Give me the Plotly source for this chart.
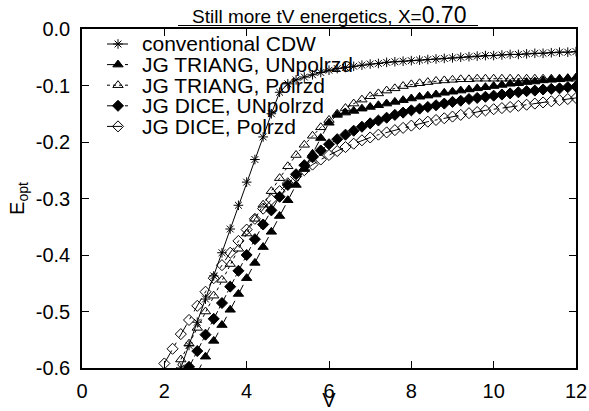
import plotly.graph_objects as go

# ---------------- data ----------------
v_grid = [2.0, 2.2, 2.4, 2.6, 2.8, 3.0, 3.2, 3.4, 3.6, 3.8,
          4.0, 4.2, 4.4, 4.6, 4.8, 5.0, 5.2, 5.4, 5.6, 5.8,
          6.0, 6.2, 6.4, 6.6, 6.8, 7.0, 7.2, 7.4, 7.6, 7.8,
          8.0, 8.2, 8.4, 8.6, 8.8, 9.0, 9.2, 9.4, 9.6, 9.8,
          10.0, 10.2, 10.4, 10.6, 10.8, 11.0, 11.2, 11.4, 11.6, 11.8, 12.0]

series_names = ["conventional CDW", "JG TRIANG, UNpolrzd", "JG TRIANG, Polrzd",
                "JG DICE, UNpolrzd", "JG DICE, Polrzd"]

# first V of each series (values below follow v_grid from that V)
cdw_start = 2.2
cdw_E = [-0.641, -0.600, -0.560, -0.519, -0.478, -0.437, -0.396, -0.354, -0.312, -0.271,
         -0.231, -0.191, -0.150, -0.112, -0.097, -0.090, -0.085, -0.081, -0.077, -0.073,
         -0.070, -0.068, -0.066, -0.064, -0.062, -0.061, -0.059, -0.058, -0.057, -0.056,
         -0.055, -0.054, -0.053, -0.052, -0.051, -0.050, -0.049, -0.048, -0.047, -0.047,
         -0.046, -0.045, -0.045, -0.044, -0.043, -0.043, -0.042, -0.041, -0.041, -0.040]

tri_un_start = 2.8
tri_un_E = [-0.608, -0.580, -0.552, -0.524, -0.497, -0.469, -0.441, -0.414, -0.386, -0.359,
            -0.331, -0.303, -0.276, -0.248, -0.221, -0.193, -0.166, -0.152, -0.148, -0.145,
            -0.141, -0.138, -0.135, -0.132, -0.129, -0.126, -0.123, -0.120, -0.118, -0.116,
            -0.113, -0.111, -0.109, -0.107, -0.105, -0.103, -0.101, -0.099, -0.097, -0.096,
            -0.094, -0.093, -0.091, -0.090, -0.089, -0.087, -0.086]

tri_pol_start = 2.2
tri_pol_E = [-0.613, -0.585, -0.557, -0.529, -0.500, -0.472, -0.444, -0.416, -0.389, -0.362,
             -0.336, -0.311, -0.287, -0.264, -0.243, -0.223, -0.205, -0.189, -0.174, -0.161,
             -0.150, -0.140, -0.132, -0.125, -0.119, -0.114, -0.109, -0.105, -0.101, -0.098,
             -0.096, -0.094, -0.092, -0.091, -0.090, -0.089, -0.089, -0.088, -0.088, -0.088,
             -0.088, -0.088, -0.088, -0.088, -0.088, -0.088, -0.088, -0.088, -0.088, -0.088]

dice_un_start = 2.4
dice_un_E = [-0.627, -0.598, -0.570, -0.541, -0.513, -0.485, -0.456, -0.428, -0.400, -0.372,
             -0.346, -0.321, -0.297, -0.276, -0.257, -0.241, -0.227, -0.215, -0.204, -0.195,
             -0.187, -0.180, -0.173, -0.167, -0.162, -0.157, -0.152, -0.148, -0.144, -0.141,
             -0.138, -0.135, -0.132, -0.129, -0.127, -0.124, -0.122, -0.120, -0.118, -0.116,
             -0.114, -0.112, -0.110, -0.109, -0.107, -0.106, -0.105, -0.103, -0.102]

dice_pol_start = 2.0
dice_pol_E = [-0.592, -0.566, -0.540, -0.515, -0.490, -0.465, -0.441, -0.418, -0.396, -0.375,
              -0.355, -0.336, -0.318, -0.302, -0.287, -0.273, -0.261, -0.250, -0.240, -0.231,
              -0.223, -0.216, -0.209, -0.203, -0.197, -0.192, -0.187, -0.183, -0.179, -0.175,
              -0.171, -0.168, -0.164, -0.161, -0.158, -0.155, -0.152, -0.149, -0.147, -0.144,
              -0.142, -0.140, -0.138, -0.136, -0.134, -0.132, -0.130, -0.128, -0.126, -0.124,
              -0.122]

x_ticks = [0, 2, 4, 6, 8, 10, 12]
x_ticktext = ["0", "2", "4", "6", "8", "10", "12"]
y_ticks = [0.0, -0.1, -0.2, -0.3, -0.4, -0.5, -0.6]
y_ticktext = ["0.0", "-0.1", "-0.2", "-0.3", "-0.4", "-0.5", "-0.6"]

# ---------------- styles ----------------
FONT = "Liberation Sans, Arial, Helvetica, sans-serif"
W, H = 589, 411
ML, MR, MT, MB = 82, 13, 29, 43
PW, PH = W - ML - MR, H - MT - MB

styles = [
    dict(symbol="asterisk-open", size=8, dash="solid"),
    dict(symbol="triangle-up", size=9, dash="dash"),
    dict(symbol="triangle-up-open", size=9, dash="dot"),
    dict(symbol="diamond", size=8.5, dash="dashdot"),
    dict(symbol="diamond-open", size=8.5, dash="longdashdot"),
]

series = [(cdw_start, cdw_E), (tri_un_start, tri_un_E), (tri_pol_start, tri_pol_E),
          (dice_un_start, dice_un_E), (dice_pol_start, dice_pol_E)]

fig = go.Figure()
for (start, ev), name, st in zip(series, series_names, styles):
    i0 = v_grid.index(start)
    xs = v_grid[i0:i0 + len(ev)]
    fig.add_trace(go.Scatter(
        x=xs, y=ev, mode="lines+markers", name=name, showlegend=False,
        line=dict(color="black", width=1, dash=st["dash"]),
        marker=dict(symbol=st["symbol"], size=st["size"], color="black",
                    line=dict(color="black", width=1)),
        cliponaxis=True,
    ))

# ---------------- custom legend (overlay pixel axes) ----------------
leg_line_x = (25, 46)
leg_mark_x = 36
leg_row0 = 368 - 44
leg_gap = 20.6
annotations = []
for k, (name, st) in enumerate(zip(series_names, styles)):
    yy = leg_row0 - k * leg_gap
    fig.add_trace(go.Scatter(
        x=list(leg_line_x), y=[yy, yy], mode="lines", xaxis="x2", yaxis="y2",
        showlegend=False, hoverinfo="skip",
        line=dict(color="black", width=1, dash=st["dash"])))
    fig.add_trace(go.Scatter(
        x=[leg_mark_x], y=[yy], mode="markers", xaxis="x2", yaxis="y2",
        showlegend=False, hoverinfo="skip",
        marker=dict(symbol=st["symbol"], size=st["size"], color="black",
                    line=dict(color="black", width=1))))
    annotations.append(dict(
        x=(141 - ML) / PW, y=yy / PH, xref="paper", yref="paper",
        xanchor="left", yanchor="middle", showarrow=False, borderpad=0,
        text=name, font=dict(family=FONT, size=21, color="black")))

# title
annotations.append(dict(
    x=0.5, y=1.0, xref="paper", yref="paper", xanchor="center", yanchor="bottom",
    showarrow=False, yshift=-1,
    text="Still more tV energetics, X=<span style='font-size:23px'>0.70</span>",
    font=dict(family=FONT, size=19, color="black")))

axis_common = dict(
    showline=True, linecolor="black", linewidth=1.5, mirror="ticks",
    ticks="inside", ticklen=7, tickwidth=1, tickcolor="black",
    showgrid=False, zeroline=False,
    tickfont=dict(family=FONT, size=20, color="black"),
)

fig.update_layout(
    width=W, height=H,
    margin=dict(l=ML, r=MR, t=MT, b=MB, autoexpand=False),
    paper_bgcolor="white", plot_bgcolor="white",
    font=dict(family=FONT, color="black"),
    xaxis=dict(range=[0, 12], tickvals=x_ticks, ticktext=x_ticktext,
               ticklabelstandoff=4,
               title=dict(text="V", font=dict(family=FONT, size=20), standoff=3),
               **axis_common),
    yaxis=dict(range=[-0.6, 0.0], tickvals=y_ticks, ticktext=y_ticktext,
               ticklabelstandoff=6,
               title=dict(text="E<sub>opt</sub>", font=dict(family=FONT, size=20), standoff=6),
               **axis_common),
    xaxis2=dict(overlaying="x", range=[0, PW], visible=False, fixedrange=True),
    yaxis2=dict(overlaying="y", range=[0, PH], visible=False, fixedrange=True),
    annotations=annotations,
    shapes=[dict(type="line", xref="paper", yref="paper",
                 x0=(178 - ML) / PW, x1=(478 - ML) / PW,
                 y0=1 + 3.5 / PH, y1=1 + 3.5 / PH,
                 line=dict(color="black", width=1.2))],
    showlegend=False,
)

fig.write_html("out.html", config={"displayModeBar": False},
               post_script="document.body.style.margin='0';document.body.style.padding='0';")
